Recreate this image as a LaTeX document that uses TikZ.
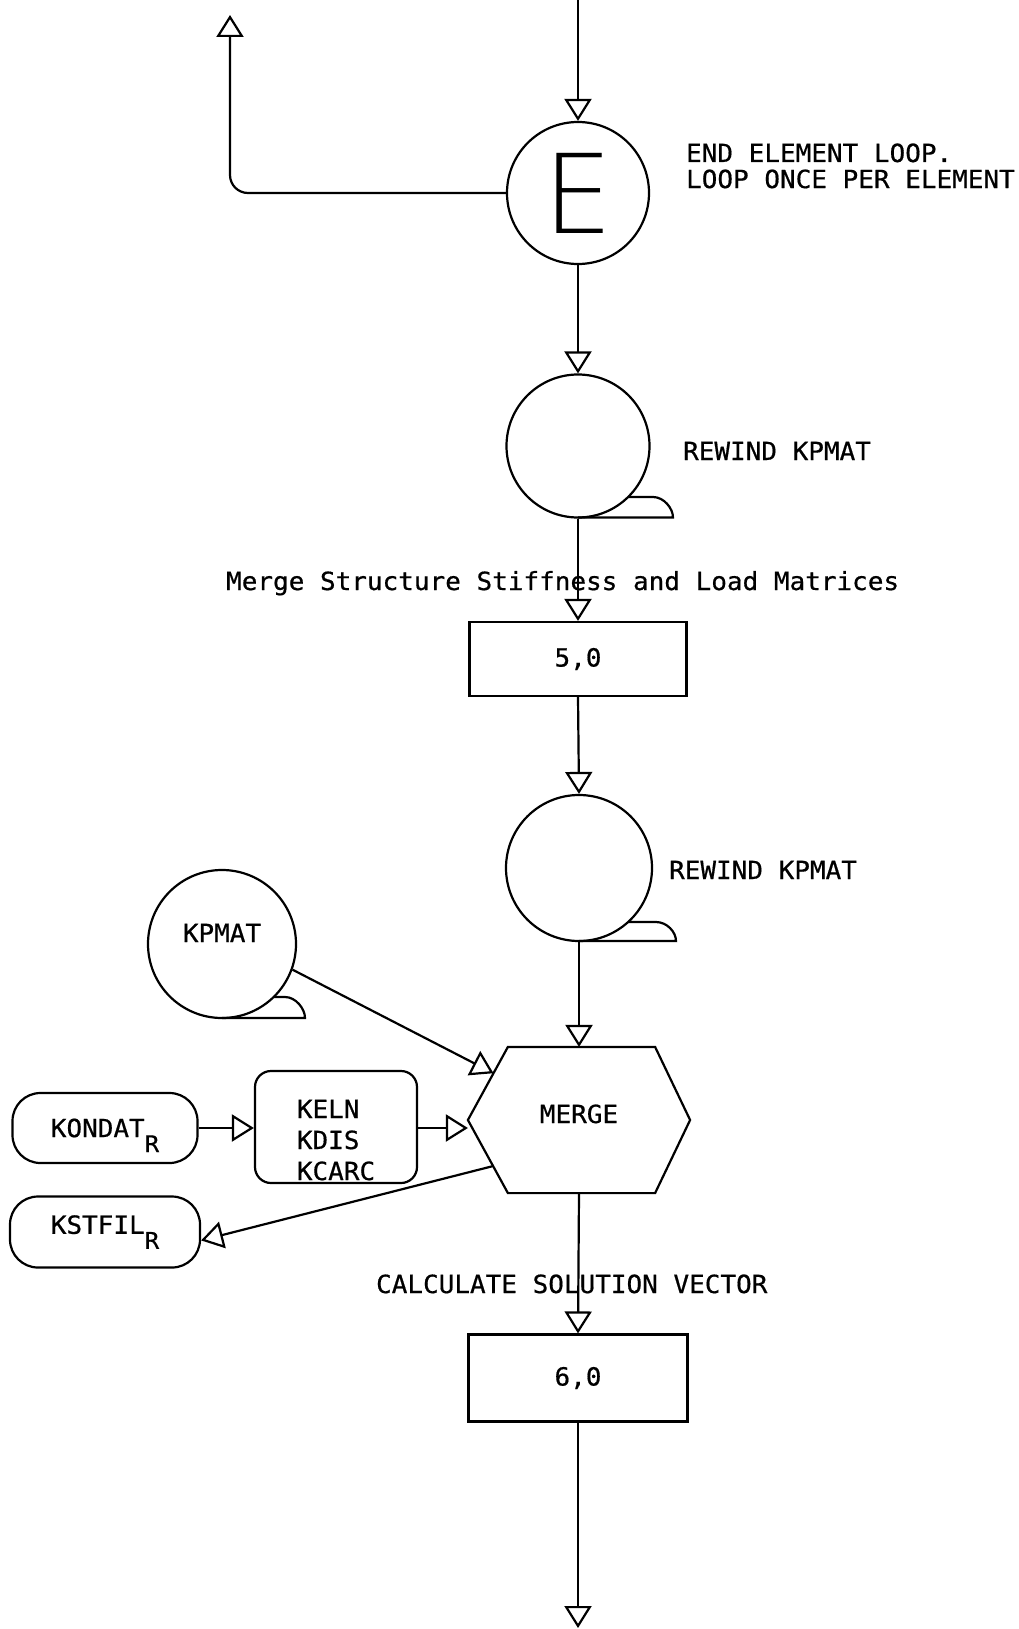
\documentclass[tikz,border=0pt]{standalone}
\usepackage{fontspec}
\usetikzlibrary{arrows.meta,calc}
\newfontfamily\labfont{DejaVu Sans Mono}[FakeStretch=1.04,FakeBold=0.6]
\newfontfamily\efont{DejaVuSans-ExtraLight.ttf}
% tape tail: #1 node, #2 dx of tail top on circle, #3 dy of tail top, #4 tail extent, #5 radius
\newcommand\tapetail[5]{%
  \draw ($(#1)+(#2,#3)$) -- ($(#1)+(#4-20,#3)$)
    .. controls ($(#1)+(#4-9,#3)$) and ($(#1)+(#4,#5-9)$) .. ($(#1)+(#4,#5)$)
    -- ($(#1)+(0,#5)$);}
\begin{document}
\begin{tikzpicture}[x=1pt,y=-1pt,line width=2.2pt,
  every node/.style={font=\labfont\fontsize{25}{31}\selectfont, inner sep=0pt},
  arr/.style={-{Triangle[open,length=22pt,width=27pt]}},
  ring/.style={circle, draw, line width=2.2pt},
  procbox/.style={rectangle, draw, line width=2.2pt},
  filebox/.style={rectangle, draw, rounded corners=28pt, line width=2.2pt},
  lab/.style={anchor=base west}]
\fill[white] (0,0) rectangle (1018,1629);
\useasboundingbox (0,0) rectangle (1018,1629);

% nodes
\node[ring, minimum size=142pt] (E) at (578,193) {\efont\fontsize{110}{110}\selectfont E};
\node[ring, minimum size=143pt] (t1) at (578,446) {};
\node[procbox, minimum width=217pt, minimum height=74pt] (b5) at (578,659) {5,0};
\node[ring, minimum size=146pt] (t2) at (579,868) {};
\node[minimum width=220pt, minimum height=144pt] (merge) at (579,1120) {\raisebox{-3pt}[0pt][0pt]{MERGE}};
\node[procbox, minimum width=219pt, minimum height=87pt] (b6) at (578,1378) {6,0};
\node[ring, minimum size=148pt] (kp) at (222,944) {\raisebox{2pt}[0pt][0pt]{KPMAT}};
\node[procbox, rounded corners=16pt, minimum width=162pt, minimum height=112pt] (keln) at (336,1127)
  {\raisebox{9pt}[0pt][0pt]{\begin{tabular}[t]{@{}l@{}}KELN\\KDIS\\KCARC\end{tabular}}};
\node[filebox, minimum width=185pt, minimum height=70pt] (kon) at (105,1128)
  {KONDAT\raisebox{-15pt}[0pt][0pt]{\fontsize{23}{23}\selectfont R}\hspace{20pt}};
\node[filebox, minimum width=190pt, minimum height=71pt] (kst) at (105,1232)
  {KSTFIL\raisebox{-15pt}{\fontsize{23}{23}\selectfont R}\hspace{17pt}};

% hexagon outline of MERGE
\coordinate (hNW) at ($(merge.north west)+(40,0)$);
\coordinate (hNE) at ($(merge.north east)+(-35,0)$);
\coordinate (hE) at (merge.east);
\coordinate (hSE) at ($(merge.south east)+(-35,0)$);
\coordinate (hSW) at ($(merge.south west)+(40,0)$);
\coordinate (hW) at (merge.west);
\draw (hNW) -- (hNE) -- (hE) -- (hSE) -- (hSW) -- (hW) -- cycle;

% tape tails
\tapetail{t1}{50}{51}{95}{71.5}
\tapetail{t2}{49}{54}{97}{73}
\tapetail{kp}{51.6}{53}{83}{74}

% labels
\node[lab, font=\labfont\fontsize{25}{25}\selectfont] (lend) at (685,162)
  {\begin{tabular}[t]{@{}l@{}}END ELEMENT LOOP.\\LOOP ONCE PER ELEMENT\end{tabular}};
\node[lab] (lrw1) at (682,460) {REWIND KPMAT};
\node[lab] (lmerge) at (225,590) {Merge Structure Stiffness and Load Matrices};
\node[lab] (lrw2) at (668,879) {REWIND KPMAT};
\node[lab] (lcalc) at (375,1293) {CALCULATE SOLUTION VECTOR};

% connectors
\coordinate (topin) at (578,0);
\coordinate (loopout) at (230,15);
\coordinate (botout) at (578,1628);
\draw[arr] (topin) -- (E.north);
\draw[arr, rounded corners=18pt] (E.west) -| (loopout);
\draw[arr] (E.south) -- (t1.north);
\draw[arr] (t1.south) -- (b5.north);
\draw[arr] (b5.south) -- (t2.north);
\draw[arr] (t2.south) -- (merge.north);
\draw[arr] (kp.-20) -- ($(hW)!0.64!(hNW)$);
\draw[arr] (kon.east) -- (kon.east -| keln.west);
\draw[arr] (kon.east -| keln.east) -- (kon.east -| hW);
\draw[arr] ($(hW)!0.63!(hSW)$) -- (kst.-5);
\draw[arr] (merge.south) -- (b6.north);
\draw[arr] (b6.south) -- (botout);
\end{tikzpicture}
\end{document}
